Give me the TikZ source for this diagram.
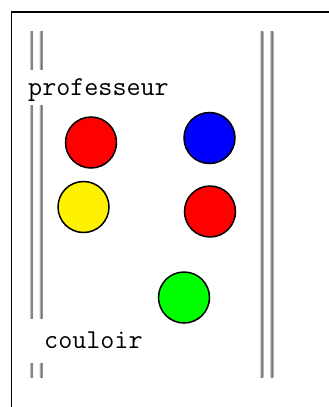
\documentclass[tikz,border=0pt]{standalone}
\begin{document}
\begin{tikzpicture}[x=1pt,y=-1pt,
  ball/.style={circle,draw=black,line width=1.5pt,minimum size=51pt,inner sep=0pt},
  label/.style={font=\ttfamily\fontsize{27.3}{29}\selectfont,inner sep=0pt,anchor=base west},
  wall/.style={left color=gray!45,right color=gray!45,middle color=gray!80!black}]
\useasboundingbox (0,0) rectangle (329,407);
\fill[white] (0,0) rectangle (329,407);
% frame
\draw[line width=1.6pt] (11.5,407) -- (11.5,12) -- (329,12);
% left wall pieces
\foreach \cx in {31.5,41.2}{
  \shade[wall] (\cx-1.6,31) rectangle (\cx+1.6,69);
  \shade[wall] (\cx-1.6,105) rectangle (\cx+1.6,318);
  \shade[wall] (\cx-1.6,363) rectangle (\cx+1.6,377);
}
% right wall
\foreach \cx in {261.7,271.7}{
  \shade[wall] (\cx-1.6,31) rectangle (\cx+1.6,377);
}
% texts
\node[label] (prof) at (28,95) {professeur};
\node[label] (coul) at (44,348) {couloir};
% balls
\node[ball,fill=red]    (r1) at (91,142.5) {};
\node[ball,fill=blue]   (b1) at (209.5,138) {};
\node[ball,fill=yellow] (y1) at (83.5,207) {};
\node[ball,fill=red]    (r2) at (210,211.5) {};
\node[ball,fill=green]  (g1) at (184,297.5) {};
\end{tikzpicture}
\end{document}
